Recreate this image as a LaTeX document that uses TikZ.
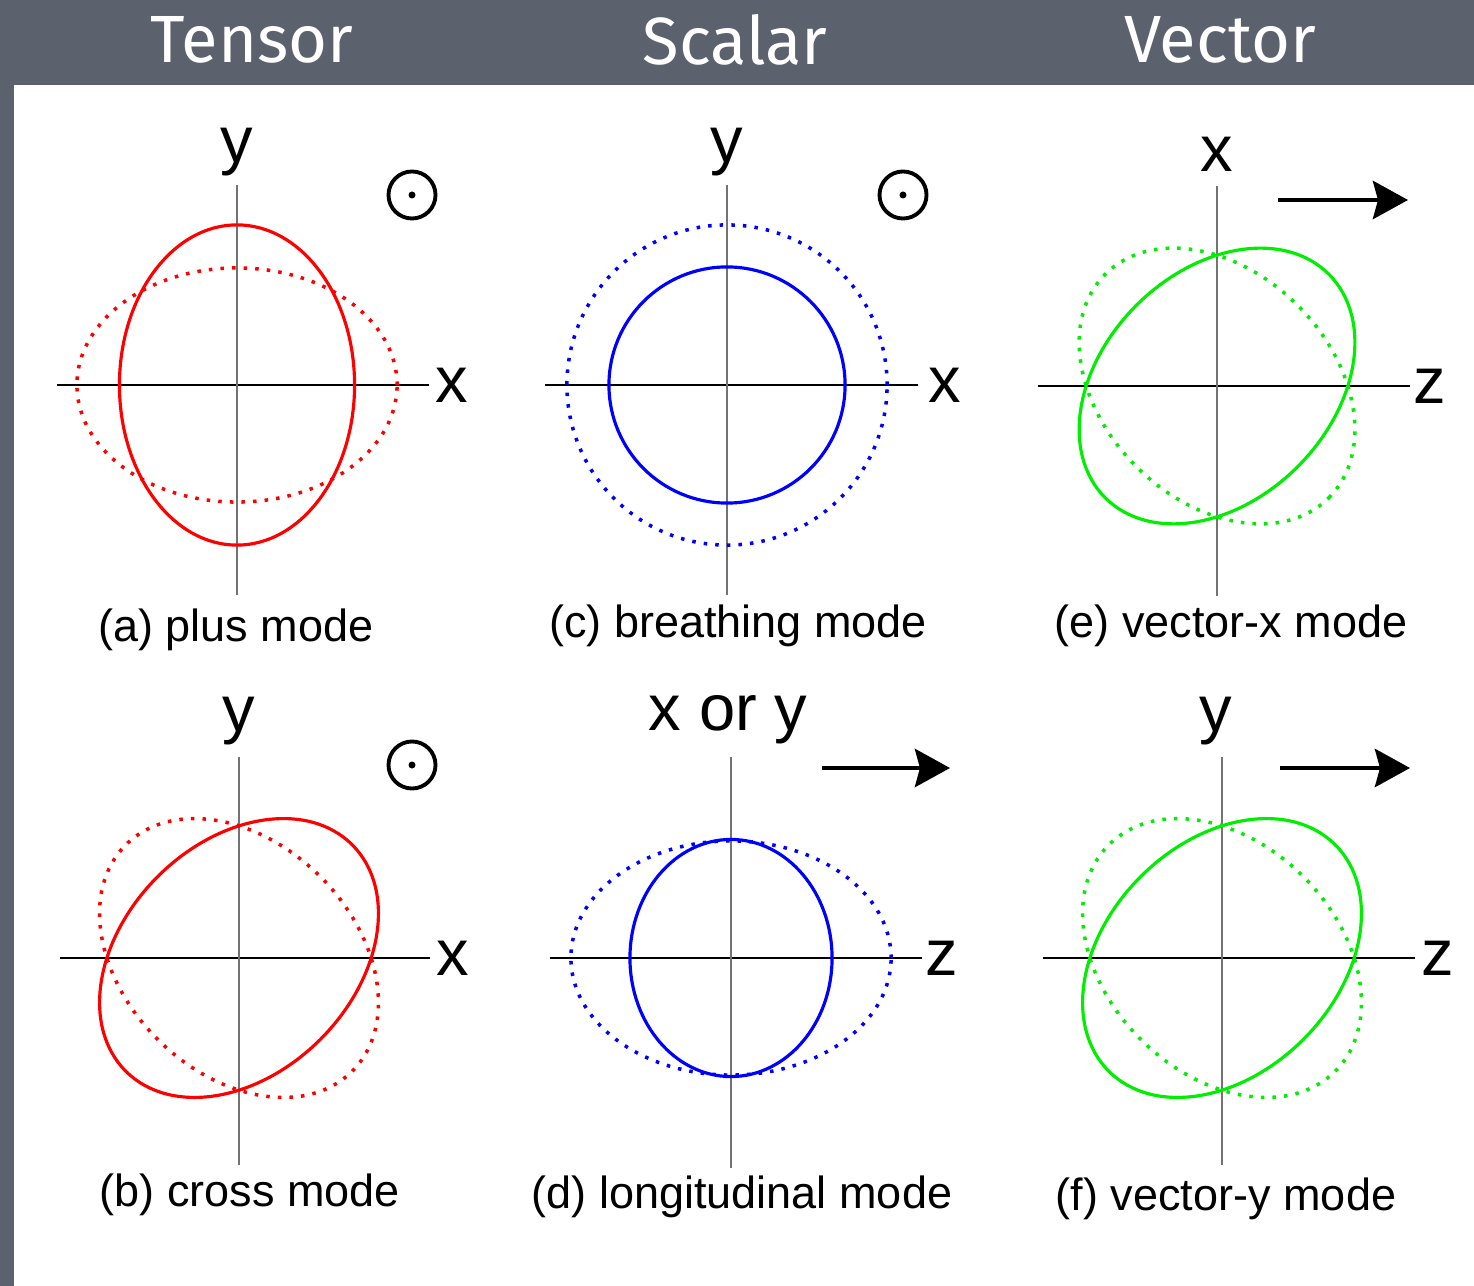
\documentclass[tikz,border=0pt]{standalone}
\usepackage{fontspec}
\setmainfont{Liberation Sans}
\newfontfamily\headfont{Fira Sans}
\usetikzlibrary{arrows.meta}
\definecolor{slate}{RGB}{92,97,110}
\definecolor{modered}{RGB}{255,0,0}
\definecolor{modeblue}{RGB}{0,0,255}
\definecolor{modegreen}{RGB}{0,238,0}
\tikzset{
  xaxis/.style={black,line width=0.4pt},
  yaxis/.style={black!55,line width=0.45pt},
  axlabel/.style={font=\fontsize{18.5}{20}\selectfont,inner sep=0pt},
  caption/.style={font=\fontsize{12.8}{14}\selectfont,inner sep=0pt},
  heading/.style={font=\headfont\fontsize{19}{21}\selectfont,text=white,inner sep=0pt},
  now/.style={line width=0.9pt},
  before/.style={line width=1pt,dash pattern=on 1pt off 2.3pt},
  prop/.style={line width=1.4pt,-{Stealth[length=0.35cm,width=0.38cm,inset=0.05cm]}},
  outward/.style={line width=1.1pt},
}

\begin{document}
\begin{tikzpicture}[x=0.01cm,y=-0.01cm]
\fill[slate] (0,0) rectangle (1474,1286);
\fill[white] (14,85) rectangle (1474,1286);

% headings
\node[heading] (tensor) at (252,40) {Tensor};
\node[heading] (scalar) at (735,40) {Scalar};
\node[heading] (vector) at (1220,40) {Vector};

% panel centres
\coordinate (oA) at (237,385);
\coordinate (oC) at (727,385);
\coordinate (oE) at (1217,386);
\coordinate (oB) at (239,958);
\coordinate (oD) at (731,958);
\coordinate (oF) at (1222,958);

% (a) plus
\draw[xaxis] ([xshift=-1.8cm]oA) -- ([xshift=1.92cm]oA);
\draw[yaxis] ([yshift=2cm]oA) -- ([yshift=-2.1cm]oA);
\node[axlabel] (xA) at ([xshift=2.15cm]oA) {x};
\node[axlabel] (yA) at ([yshift=2.33cm]oA) {y};
\draw[before,modered] (oA) ellipse [x radius=1.6cm, y radius=1.17cm];
\draw[now,modered] (oA) ellipse [x radius=1.175cm, y radius=1.6cm];
\coordinate (dotA) at (412,195);
\draw[outward] (dotA) circle (0.235cm);
\fill (dotA) circle (0.035cm);
\node[caption] (capA) at (236,630) {(a) plus mode};

% (c) breathing
\draw[xaxis] ([xshift=-1.82cm]oC) -- ([xshift=1.91cm]oC);
\draw[yaxis] ([yshift=2cm]oC) -- ([yshift=-2.1cm]oC);
\node[axlabel] (xC) at ([xshift=2.18cm]oC) {x};
\node[axlabel] (yC) at ([yshift=2.33cm]oC) {y};
\draw[before,modeblue] (oC) circle (1.6cm);
\draw[now,modeblue] (oC) circle (1.18cm);
\coordinate (dotC) at (903,195);
\draw[outward] (dotC) circle (0.235cm);
\fill (dotC) circle (0.035cm);
\node[caption] (capC) at (738,626) {(c) breathing mode};

% (e) vector-x
\draw[xaxis] ([xshift=-1.79cm]oE) -- ([xshift=1.93cm]oE);
\draw[yaxis] ([yshift=2cm]oE) -- ([yshift=-2.1cm]oE);
\node[axlabel] (zE) at ([xshift=2.13cm]oE) {z};
\node[axlabel] (xE) at ([yshift=2.32cm]oE) {x};
\draw[before,modegreen,rotate around={-45:(oE)}] (oE) ellipse [x radius=1.58cm, y radius=1.14cm];
\draw[now,modegreen,rotate around={45:(oE)}] (oE) ellipse [x radius=1.58cm, y radius=1.14cm];
\coordinate (tailE) at (1278,200);
\coordinate (headE) at (1408,200);
\draw[prop] (tailE) -- (headE);
\node[caption] (capE) at (1231,626) {(e) vector-x mode};

% (b) cross
\draw[xaxis] ([xshift=-1.79cm]oB) -- ([xshift=1.91cm]oB);
\draw[yaxis] ([yshift=2.01cm]oB) -- ([yshift=-2.07cm]oB);
\node[axlabel] (xB) at ([xshift=2.14cm]oB) {x};
\node[axlabel] (yB) at ([yshift=2.37cm]oB) {y};
\draw[before,modered,rotate around={-45:(oB)}] (oB) ellipse [x radius=1.6cm, y radius=1.15cm];
\draw[now,modered,rotate around={45:(oB)}] (oB) ellipse [x radius=1.6cm, y radius=1.15cm];
\coordinate (dotB) at (412,765);
\draw[outward] (dotB) circle (0.235cm);
\fill (dotB) circle (0.035cm);
\node[caption] (capB) at (250,1195) {(b) cross mode};

% (d) longitudinal
\draw[xaxis] ([xshift=-1.81cm]oD) -- ([xshift=1.91cm]oD);
\draw[yaxis] ([yshift=2.01cm]oD) -- ([yshift=-2.1cm]oD);
\node[axlabel] (zD) at ([xshift=2.11cm]oD) {z};
\node[axlabel] (xyD) at (728,720) {x or y};
\draw[before,modeblue] (oD) ellipse [x radius=1.6cm, y radius=1.17cm];
\draw[now,modeblue] (oD) ellipse [x radius=1.01cm, y radius=1.185cm];
\coordinate (tailD) at (822,768);
\coordinate (headD) at (950,768);
\draw[prop] (tailD) -- (headD);
\node[caption] (capD) at (742,1197) {(d) longitudinal mode};

% (f) vector-y
\draw[xaxis] ([xshift=-1.79cm]oF) -- ([xshift=1.93cm]oF);
\draw[yaxis] ([yshift=2.01cm]oF) -- ([yshift=-2.07cm]oF);
\node[axlabel] (zF) at ([xshift=2.16cm]oF) {z};
\node[axlabel] (yF) at (1216,721) {y};
\draw[before,modegreen,rotate around={-45:(oF)}] (oF) ellipse [x radius=1.6cm, y radius=1.15cm];
\draw[now,modegreen,rotate around={45:(oF)}] (oF) ellipse [x radius=1.6cm, y radius=1.15cm];
\coordinate (tailF) at (1280,768);
\coordinate (headF) at (1410,768);
\draw[prop] (tailF) -- (headF);
\node[caption] (capF) at (1226,1199) {(f) vector-y mode};

\end{tikzpicture}
\end{document}
